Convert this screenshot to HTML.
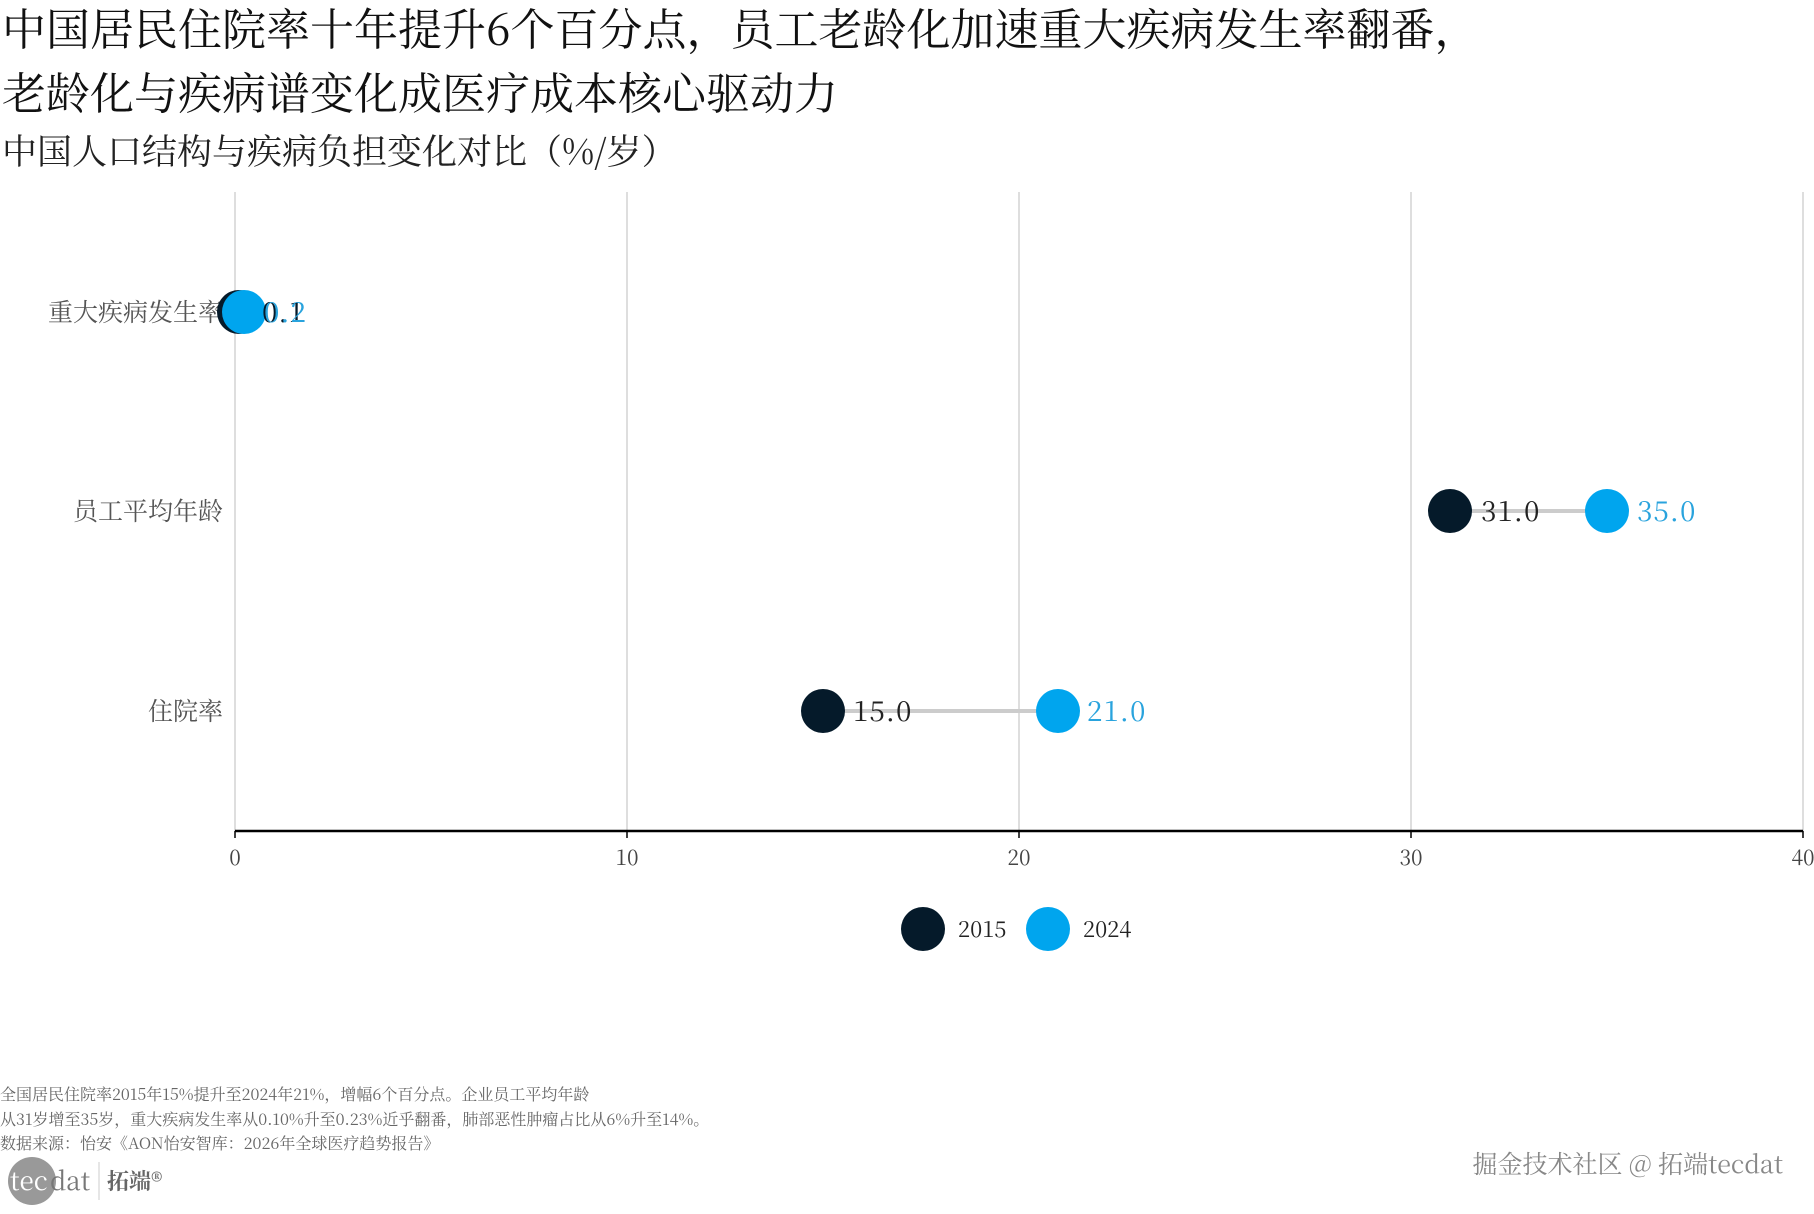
<!DOCTYPE html>
<html><head><meta charset="utf-8"><style>
body{margin:0;background:#fff;width:1814px;height:1209px;overflow:hidden}
svg text{font-family:"Noto Serif CJK SC","Liberation Serif",serif}
</style></head><body>
<svg width="1814" height="1209" xmlns="http://www.w3.org/2000/svg">
<text x="2" y="45" font-size="44" fill="#111">中国居民住院率十年提升6个百分点，员工老龄化加速重大疾病发生率翻番，</text>
<text x="2" y="109" font-size="44" fill="#111">老龄化与疾病谱变化成医疗成本核心驱动力</text>
<text x="2" y="164" font-size="35" fill="#222">中国人口结构与疾病负担变化对比（%/岁）</text>
<g stroke="#d4d4d4" stroke-width="1.5">
<line x1="235" y1="192" x2="235" y2="831"/><line x1="627" y1="192" x2="627" y2="831"/>
<line x1="1019" y1="192" x2="1019" y2="831"/><line x1="1411" y1="192" x2="1411" y2="831"/>
<line x1="1803" y1="192" x2="1803" y2="831"/></g>
<line x1="235" y1="831" x2="1803" y2="831" stroke="#000" stroke-width="2.5"/>
<g stroke="#000" stroke-width="1.5">
<line x1="235" y1="831" x2="235" y2="838"/><line x1="627" y1="831" x2="627" y2="838"/><line x1="1019" y1="831" x2="1019" y2="838"/><line x1="1411" y1="831" x2="1411" y2="838"/><line x1="1803" y1="831" x2="1803" y2="838"/></g>
<g font-size="21" fill="#444" text-anchor="middle">
<text x="235" y="865">0</text><text x="627" y="865">10</text><text x="1019" y="865">20</text><text x="1411" y="865">30</text><text x="1803" y="865">40</text></g>
<g font-size="25" fill="#555" text-anchor="end">
<text x="223" y="321">重大疾病发生率</text><text x="223" y="520">员工平均年龄</text><text x="223" y="720">住院率</text></g>
<g stroke="#cccccc" stroke-width="4">
<line x1="239" y1="312" x2="244" y2="312"/><line x1="1450" y1="511" x2="1607" y2="511"/><line x1="823" y1="711" x2="1058" y2="711"/></g>
<circle cx="239" cy="312" r="22" fill="#051a2a"/><circle cx="244" cy="312" r="22" fill="#00a5ee"/>
<circle cx="1450" cy="511" r="22" fill="#051a2a"/><circle cx="1607" cy="511" r="22" fill="#00a5ee"/>
<circle cx="823" cy="711" r="22" fill="#051a2a"/><circle cx="1058" cy="711" r="22" fill="#00a5ee"/>
<g font-size="28" letter-spacing="1">
<text x="262" y="322" fill="#051a2a">0.1</text><text x="264" y="322" fill="#29a3dd">0.2</text>
<text x="1481" y="521" fill="#222">31.0</text><text x="1637" y="521" fill="#29a3dd">35.0</text>
<text x="853" y="721" fill="#222">15.0</text><text x="1087" y="721" fill="#29a3dd">21.0</text></g>
<circle cx="923" cy="929" r="22" fill="#051a2a"/><circle cx="1048" cy="929" r="22" fill="#00a5ee"/>
<g font-size="22" fill="#222"><text x="958" y="937">2015</text><text x="1083" y="937">2024</text></g>
<g font-size="16" fill="#666">
<text x="0" y="1100">全国居民住院率2015年15%提升至2024年21%，增幅6个百分点。企业员工平均年龄</text>
<text x="0" y="1125">从31岁增至35岁，重大疾病发生率从0.10%升至0.23%近乎翻番，肺部恶性肿瘤占比从6%升至14%。</text>
<text x="0" y="1149">数据来源：怡安《AON怡安智库：2026年全球医疗趋势报告》</text></g>
<text x="1783" y="1173" font-size="25" fill="#888" text-anchor="end">掘金技术社区 @ 拓端tecdat</text>
<circle cx="32" cy="1181" r="24" fill="#999"/>
<text x="10" y="1190" font-size="26" fill="#fff" font-family="Liberation Sans,sans-serif">tec</text>
<text x="50" y="1190" font-size="26" fill="#777" font-family="Liberation Sans,sans-serif">dat</text>
<line x1="99" y1="1162" x2="99" y2="1200" stroke="#ccc"/>
<text x="107" y="1189" font-size="22" fill="#666" font-weight="bold">拓端®</text>
</svg>
</body></html>
